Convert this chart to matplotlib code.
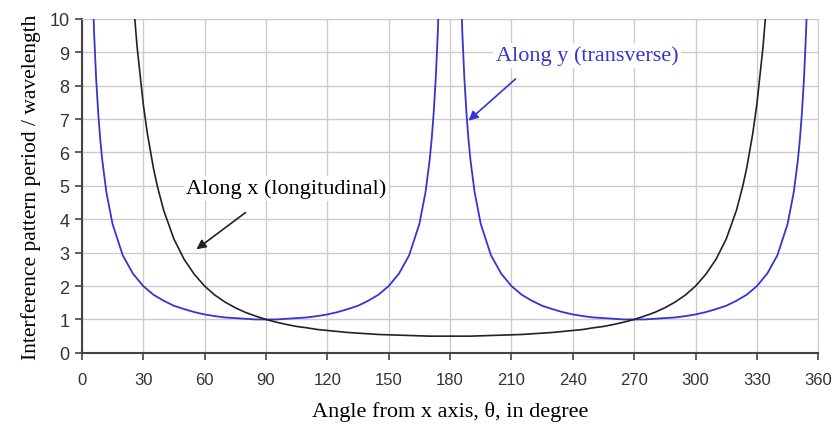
import numpy as np
import matplotlib
matplotlib.use('Agg')
import matplotlib.pyplot as plt

# angle (deg) and period/wavelength
black_theta = [20, 22, 25, 27, 30, 32, 35, 37, 40, 45, 50, 55, 60, 65, 70, 75, 80, 85, 90,
               95, 100, 105, 110, 115, 120, 125, 130, 135, 140, 145, 150, 155, 160, 165, 170, 175, 180,
               185, 190, 195, 200, 205, 210, 215, 220, 225, 230, 235, 240, 245, 250, 255, 260, 265, 270,
               275, 280, 285, 290, 295, 300, 305, 310, 315, 320, 323, 325, 328, 330, 333, 335, 338, 340]
black_period = [16.58, 13.74, 10.67, 9.17, 7.46, 6.58, 5.53, 4.97, 4.27, 3.41, 2.80, 2.35, 2.00, 1.73, 1.52, 1.35, 1.21, 1.10, 1.00,
                0.92, 0.85, 0.79, 0.75, 0.70, 0.67, 0.64, 0.61, 0.59, 0.57, 0.55, 0.54, 0.53, 0.52, 0.51, 0.50, 0.50, 0.50,
                0.50, 0.50, 0.51, 0.52, 0.53, 0.54, 0.55, 0.57, 0.59, 0.61, 0.64, 0.67, 0.70, 0.75, 0.79, 0.85, 0.92, 1.00,
                1.10, 1.21, 1.35, 1.52, 1.73, 2.00, 2.35, 2.80, 3.41, 4.27, 4.97, 5.53, 6.58, 7.46, 9.17, 10.67, 13.74, 16.58]

blue_theta = [3, 4, 5, 6, 7, 8, 9, 10, 12, 15, 20, 25, 30, 35, 40, 45, 50, 55, 60, 65, 70, 75, 80, 85, 90,
              95, 100, 105, 110, 115, 120, 125, 130, 135, 140, 145, 150, 155, 160, 165, 168, 170, 171, 172, 173, 174, 175, 176, 177,
              183, 184, 185, 186, 187, 188, 189, 190, 192, 195, 200, 205, 210, 215, 220, 225, 230, 235, 240, 245, 250, 255, 260, 265, 270,
              275, 280, 285, 290, 295, 300, 305, 310, 315, 320, 325, 330, 335, 340, 345, 348, 350, 351, 352, 353, 354, 355, 356, 357]
blue_period = [19.11, 14.34, 11.47, 9.57, 8.21, 7.19, 6.39, 5.76, 4.81, 3.86, 2.92, 2.37, 2.00, 1.74, 1.56, 1.41, 1.31, 1.22, 1.15, 1.10, 1.06, 1.04, 1.02, 1.00, 1.00,
               1.00, 1.02, 1.04, 1.06, 1.10, 1.15, 1.22, 1.31, 1.41, 1.56, 1.74, 2.00, 2.37, 2.92, 3.86, 4.81, 5.76, 6.39, 7.19, 8.21, 9.57, 11.47, 14.34, 19.11,
               19.11, 14.34, 11.47, 9.57, 8.21, 7.19, 6.39, 5.76, 4.81, 3.86, 2.92, 2.37, 2.00, 1.74, 1.56, 1.41, 1.31, 1.22, 1.15, 1.10, 1.06, 1.04, 1.02, 1.00, 1.00,
               1.00, 1.02, 1.04, 1.06, 1.10, 1.15, 1.22, 1.31, 1.41, 1.56, 1.74, 2.00, 2.37, 2.92, 3.86, 4.81, 5.76, 6.39, 7.19, 8.21, 9.57, 11.47, 14.34, 19.11]

x_ticks = list(range(0, 361, 30))
y_ticks = list(range(0, 11))

blue = '#3535d0'

fig = plt.figure(figsize=(8.35, 4.31), dpi=100)
ax = fig.add_axes([0.098, 0.179, 0.882, 0.775])

ax.plot(blue_theta, blue_period, color=blue, lw=1.3, zorder=3)
ax.plot(black_theta, black_period, color='#222222', lw=1.2, zorder=3)

ax.set_xlim(0, 360)
ax.set_ylim(0, 10)
ax.set_xticks(x_ticks)
ax.set_yticks(y_ticks)
ax.grid(True, color='#cccccc', lw=1)
ax.set_axisbelow(True)
for s in ['top', 'right']:
    ax.spines[s].set_color('#cccccc')
for s in ['left', 'bottom']:
    ax.spines[s].set_color('#444444')
    ax.spines[s].set_linewidth(1.5)
ax.tick_params(axis='x', direction='out', length=5, width=1.2, color='#444444', labelsize=12, pad=9)
ax.tick_params(axis='y', direction='out', length=5, width=1.2, color='#444444', labelsize=13, pad=4)
for lab in ax.get_xticklabels() + ax.get_yticklabels():
    lab.set_fontfamily('Liberation Sans')
    lab.set_color('#333333')

ax.set_xlabel('Angle from x axis, θ, in degree', family='Liberation Serif', fontsize=16, labelpad=10)
ax.set_ylabel('Interference pattern period / wavelength', family='Liberation Serif', fontsize=15.5, labelpad=6)

ax.text(100, 4.92, 'Along x (longitudinal)', family='Liberation Serif', fontsize=16,
        ha='center', va='center', zorder=4,
        bbox=dict(facecolor='white', edgecolor='none', pad=2))
ax.annotate('', xy=(56, 3.1), xytext=(80, 4.2),
            arrowprops=dict(arrowstyle='-|>', color='#222222', lw=1.2, shrinkA=0, shrinkB=0,
                            mutation_scale=14), zorder=4)
ax.text(247, 8.9, 'Along y (transverse)', family='Liberation Serif', fontsize=16, color=blue,
        ha='center', va='center', zorder=4,
        bbox=dict(facecolor='white', edgecolor='none', pad=2))
ax.annotate('', xy=(189, 6.95), xytext=(212, 8.2),
            arrowprops=dict(arrowstyle='-|>', color=blue, lw=1.2, shrinkA=0, shrinkB=0,
                            mutation_scale=14), zorder=4)

fig.savefig('out.png', dpi=100)
